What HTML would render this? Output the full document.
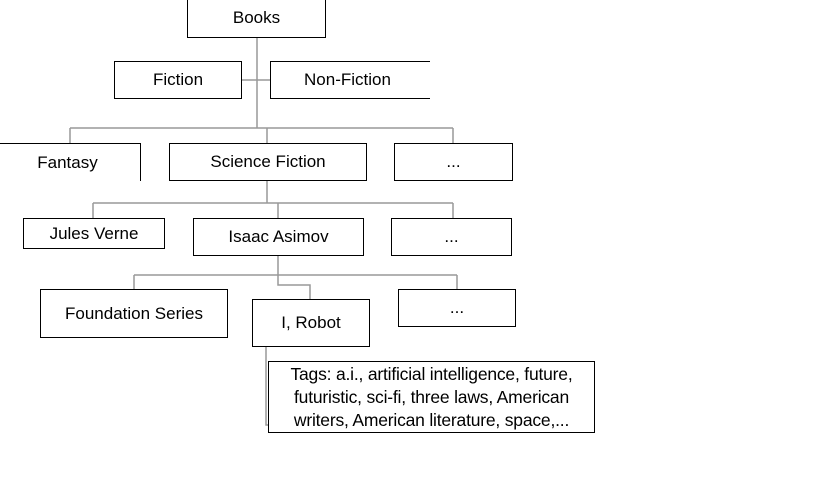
<!DOCTYPE html>
<html><head><meta charset="utf-8"><style>
body{margin:0;width:822px;height:499px;background:#fff;position:relative;overflow:hidden;font-family:"Liberation Sans",sans-serif;}
.b{position:absolute;box-sizing:border-box;border:1px solid #000;background:#fff;display:flex;align-items:center;justify-content:center;font-size:17px;color:#000;}
svg{position:absolute;left:0;top:0}
</style></head><body>
<svg width="822" height="499">
<g stroke="#999" stroke-width="1.5" fill="none">
<path d="M257 37V128M241 80H270M70 128H453M70 128V143M267 128V143M453 128V143"/>
<path d="M267 180V203M93 203H453M93 203V218M278 203V218M453 203V218"/>
<path d="M278 255V285H310V299M134 275H457M134 275V289M457 275V289"/>
<path d="M266 346V425H270"/>
</g>
</svg>
<div class="b" style="left:187px;top:-2px;width:139px;height:40px">Books</div>
<div class="b" style="left:114px;top:61px;width:128px;height:38px">Fiction</div>
<div class="b" style="left:270px;top:61px;width:160px;height:38px;border-right:none;padding-right:6px">Non-Fiction</div>
<div class="b" style="left:-5px;top:143px;width:146px;height:38px;border-left:none;border-bottom:none">Fantasy</div>
<div class="b" style="left:169px;top:143px;width:198px;height:38px">Science Fiction</div>
<div class="b" style="left:394px;top:143px;width:119px;height:38px">...</div>
<div class="b" style="left:23px;top:218px;width:142px;height:31px">Jules Verne</div>
<div class="b" style="left:193px;top:218px;width:171px;height:38px">Isaac Asimov</div>
<div class="b" style="left:391px;top:218px;width:121px;height:38px">...</div>
<div class="b" style="left:40px;top:289px;width:188px;height:49px">Foundation Series</div>
<div class="b" style="left:252px;top:299px;width:118px;height:48px">I, Robot</div>
<div class="b" style="left:398px;top:289px;width:118px;height:38px">...</div>
<div class="b" style="left:268px;top:361px;width:327px;height:72px;font-size:17.5px;line-height:23px;text-align:center;flex-direction:column;letter-spacing:-0.2px">
<div>Tags: a.i., artificial intelligence, future,</div><div>futuristic, sci-fi, three laws, American</div><div>writers, American literature, space,...</div></div>
</body></html>
